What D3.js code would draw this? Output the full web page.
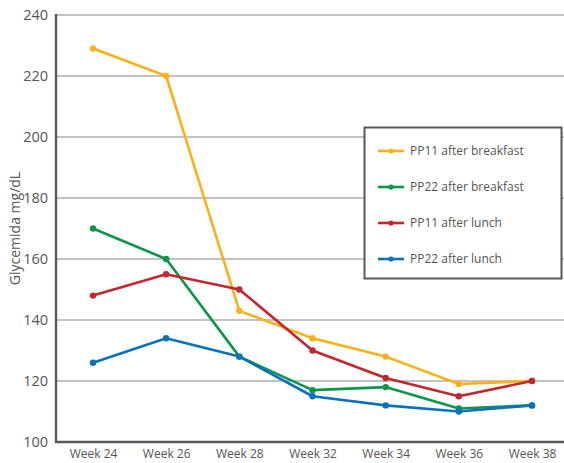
<!DOCTYPE html>
<html>
<head>
<meta charset="utf-8">
<script src="https://cdn.jsdelivr.net/npm/d3@7"></script>
<style>
  body { margin: 0; background: #fff; }
  text { font-family: "Open Sans", "Noto Sans", sans-serif; }
</style>
</head>
<body>
<svg id="chart" width="564" height="463"></svg>
<script>
const categories = ["Week 24", "Week 26", "Week 28", "Week 32", "Week 34", "Week 36", "Week 38"];
const seriesNames = ["PP11 after breakfast", "PP22 after breakfast", "PP11 after lunch", "PP22 after lunch"];
const pp11Breakfast = [229, 220, 143, 134, 128, 119, 120];
const pp22Breakfast = [170, 160, 128, 117, 118, 111, 112];
const pp11Lunch = [148, 155, 150, 130, 121, 115, 120];
const pp22Lunch = [126, 134, 128, 115, 112, 110, 112];
const yTicks = [100, 120, 140, 160, 180, 200, 220, 240];
const colors = ["#FBB019", "#0B964A", "#C1272D", "#0A72BA"];

const series = [pp11Breakfast, pp22Breakfast, pp11Lunch, pp22Lunch].map((v, i) => ({
  name: seriesNames[i], values: v, color: colors[i]
}));

const svg = d3.select("#chart");
const mLeft = 56, mRight = 564, mTop = 15, mBottom = 442;

const x = d3.scalePoint().domain(categories).range([93, 532]);
const y = d3.scaleLinear().domain([100, 240]).range([mBottom, mTop]);

// grid
svg.append("g").selectAll("line").data(yTicks.filter(d => d > 100)).join("line")
  .attr("x1", mLeft).attr("x2", mRight)
  .attr("y1", d => y(d)).attr("y2", d => y(d))
  .attr("stroke", "#c2c2c4").attr("stroke-width", 2.2);

// y axis
const yAxis = svg.append("g").attr("transform", `translate(${mLeft},0)`)
  .call(d3.axisLeft(y).tickValues(yTicks).tickSize(0).tickPadding(8));
yAxis.select(".domain").remove();
yAxis.selectAll("text").attr("fill", "#555").attr("font-size", 14.5);

// x axis
const xAxis = svg.append("g").attr("transform", `translate(0,${mBottom})`)
  .call(d3.axisBottom(x).tickSize(0).tickPadding(7));
xAxis.select(".domain").remove();
xAxis.selectAll("text").attr("fill", "#555").attr("font-size", 12);

// axis lines
svg.append("line").attr("x1", mLeft).attr("x2", mLeft).attr("y1", mTop - 1).attr("y2", mBottom + 1)
  .attr("stroke", "#58585a").attr("stroke-width", 2.4);
svg.append("line").attr("x1", mLeft - 1).attr("x2", mRight).attr("y1", mBottom).attr("y2", mBottom)
  .attr("stroke", "#58585a").attr("stroke-width", 2.4);

// y label
svg.append("text").attr("transform", `translate(20,${(mTop + mBottom) / 2}) rotate(-90)`)
  .attr("text-anchor", "middle").attr("fill", "#555").attr("font-size", 14)
  .text("Glycemida mg/dL");

// lines
const line = d3.line().x((d, i) => x(categories[i])).y(d => y(d));
series.forEach(s => {
  const g = svg.append("g");
  g.append("path").attr("d", line(s.values)).attr("fill", "none")
    .attr("stroke", s.color).attr("stroke-width", 2.6).attr("stroke-linejoin", "round");
  g.selectAll("circle").data(s.values).join("circle")
    .attr("cx", (d, i) => x(categories[i])).attr("cy", d => y(d)).attr("r", 3.2)
    .attr("fill", s.color);
});

// legend
const lg = svg.append("g");
lg.append("rect").attr("x", 364.5).attr("y", 127.5).attr("width", 197).attr("height", 151)
  .attr("fill", "#fff").attr("stroke", "#58585a").attr("stroke-width", 2);
series.forEach((s, i) => {
  const yy = 151 + i * 36;
  lg.append("line").attr("x1", 378).attr("x2", 404).attr("y1", yy).attr("y2", yy)
    .attr("stroke", s.color).attr("stroke-width", 2.6);
  lg.append("circle").attr("cx", 391).attr("cy", yy).attr("r", 2.6).attr("fill", s.color);
  lg.append("text").attr("x", 410).attr("y", yy).attr("dy", "0.35em")
    .attr("fill", "#555").attr("font-size", 12).text(s.name);
});
</script>
</body>
</html>
